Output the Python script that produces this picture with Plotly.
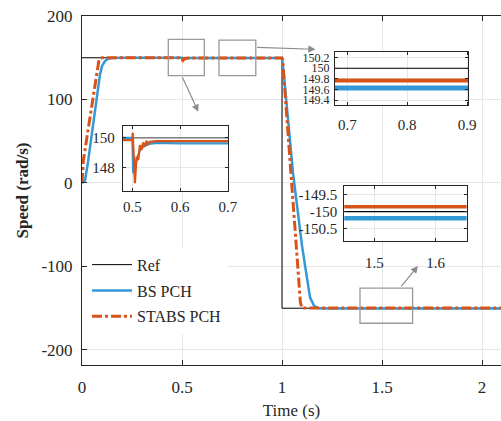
import plotly.graph_objects as go

# ---------------- data ----------------
ref_t = [0, 1.0, 1.0, 2.1]
ref_v = [150, 150, -150, -150]

bs_t = [0, 0.015, 0.03, 0.06, 0.09, 0.10, 0.115, 0.13, 0.15, 0.2, 0.5, 0.502, 0.509,
        0.516, 0.5228, 0.533, 0.550, 0.6, 1.0, 1.01, 1.055, 1.10, 1.14, 1.16, 1.18, 1.2, 2.1]
bs_v = [0, 3, 25, 78, 130, 140, 146, 148.8, 149.7, 150.0, 150.0, 147.6, 148.5,
        149.17, 149.39, 149.57, 149.66, 149.63, 149.63, 128, 12, -75, -137, -147, -149.8, -150.2, -150.2]

st_t = [0, 0.007, 0.03, 0.05, 0.08, 0.085, 0.09, 0.1, 0.5, 0.501, 0.5056, 0.509, 0.5124,
        0.516, 0.5194, 0.5228, 0.5263, 0.5298, 0.533, 0.5366, 0.55, 0.6, 1.0, 1.003, 1.033,
        1.06, 1.085, 1.092, 1.1, 2.1]
st_v = [0, 27, 63, 95, 143, 147.5, 149.3, 149.85, 149.85, 150.34, 146.92, 148.72, 148.49,
        149.51, 149.17, 149.69, 149.39, 149.80, 149.57, 149.73, 149.77, 149.77, 149.77, 148, 51,
        -40, -124, -143, -149.85, -149.85]

series_names = ["Ref", "BS PCH", "STABS PCH"]

x_ticks = [0, 0.5, 1, 1.5, 2]
y_ticks = [-200, -100, 0, 100, 200]
y_ticktext = ["-200", "-100", "0", "100", "200"]

inA_xt = [0.5, 0.6, 0.7]
inA_yt = [148, 150]
inB_xt = [0.7, 0.8, 0.9]
inB_yt = [149.4, 149.6, 149.8, 150.0, 150.2]
inB_ytext = ["149.4", "149.6", "149.8", "150", "150.2"]
inC_xt = [1.5, 1.6]
inC_yt = [-150.5, -150.0, -149.5]
inC_ytext = ["-150.5", "-150", "-149.5"]

# zoom boxes (data coords of the main axes) and arrows
boxes = [(0.4315, 0.6115, 128.5, 172.0), (0.685, 0.869, 128.5, 171.2), (1.39, 1.653, -168, -126)]
arrows = [((0.4985, 128.5), (0.5815, 85.4)), ((0.8685, 162.5), (1.1675, 160.1)),
          ((1.59, -125.7), (1.68, -99.4))]

# ---------------- styles ----------------
BLUE = "#3399D6"
ORANGE = "#D95319"
AX = "#262626"
GRID = "#e6e6e6"
FONT = "Liberation Serif"

def f(size):
    return dict(family=FONT, size=size, color=AX)

fig = go.Figure()

# main traces
fig.add_trace(go.Scatter(x=ref_t, y=ref_v, mode="lines", name=series_names[0], legendgroup="a",
                         line=dict(color="black", width=1)))
fig.add_trace(go.Scatter(x=bs_t, y=bs_v, mode="lines", name=series_names[1], legendgroup="b",
                         line=dict(color=BLUE, width=2.5)))
fig.add_trace(go.Scatter(x=st_t, y=st_v, mode="lines", name=series_names[2], legendgroup="c",
                         line=dict(color=ORANGE, width=3, dash="10px,3px,3px,3px")))

# insets
insets = [("x2", "y3", "#666666", 2.2, 2.2), ("x3", "y4", "black", 5, 4), ("x4", "y5", "black", 4.5, 3.5)]
for xa, ya, refc, bw, ow in insets:
    fig.add_trace(go.Scatter(x=ref_t, y=ref_v, mode="lines", xaxis=xa, yaxis=ya, showlegend=False,
                             line=dict(color=refc, width=1.2)))
    fig.add_trace(go.Scatter(x=bs_t, y=bs_v, mode="lines", xaxis=xa, yaxis=ya, showlegend=False,
                             line=dict(color=BLUE, width=bw)))
    fig.add_trace(go.Scatter(x=st_t, y=st_v, mode="lines", xaxis=xa, yaxis=ya, showlegend=False,
                             line=dict(color=ORANGE, width=ow)))

common = dict(ticks="inside", tickcolor=AX, showline=True, linecolor=AX, linewidth=1,
              showgrid=True, gridcolor=GRID, gridwidth=1, zeroline=False, automargin=False)

def inset_axes(xdom, ydom, xr, yr, xt, yt, ytext, xname, yname, xstand, ystand, yfs=15):
    xax = dict(common, domain=xdom, range=xr, tickvals=xt, ticktext=[f"{v:g}" for v in xt],
               anchor=yname, mirror="ticks", ticklen=3, tickfont=f(15),
               ticklabelstandoff=xstand)
    yax = dict(common, domain=ydom, range=yr, tickvals=yt, ticktext=ytext, anchor=xname,
               mirror="ticks", ticklen=3, tickfont=f(yfs),
               ticklabelstandoff=ystand)
    return xax, yax

xA, yA = inset_axes([0.0971, 0.3484], [0.4986, 0.6848], [0.48, 0.70], [146.4, 150.8],
                    inA_xt, inA_yt, [str(v) for v in inA_yt], "x2", "y3", 2, 4)
xB, yB = inset_axes([0.6038, 0.922], [0.745, 0.896], [0.6795, 0.902], [149.31, 150.30],
                    inB_xt, inB_yt, inB_ytext, "x3", "y4", 6, 2, yfs=12)
xC, yC = inset_axes([0.626, 0.918], [0.356, 0.513], [1.451, 1.6505], [-150.87, -149.23],
                    inC_xt, inC_yt, inC_ytext, "x4", "y5", 8, 3)

fig.update_layout(
    width=501, height=421, autosize=False,
    margin=dict(l=82, r=0, t=16, b=56, pad=0, autoexpand=False),
    plot_bgcolor="white", paper_bgcolor="white",
    font=f(16),
    xaxis=dict(common, domain=[0, 1], range=[0, 2.095], tickvals=x_ticks,
               ticktext=[f"{v:g}" for v in x_ticks], mirror="ticks", ticklen=5,
               tickfont=f(17), ticklabelstandoff=7,
               title=dict(text="Time (s)", font=f(17), standoff=7)),
    yaxis=dict(common, domain=[0, 1], range=[-218, 200], tickvals=y_ticks, ticktext=y_ticktext,
               ticklen=5, tickfont=f(17), ticklabelstandoff=5,
               title=dict(text="<b>Speed (rad/s)</b>", font=f(17), standoff=8)),
    yaxis2=dict(overlaying="y", side="right", anchor="x", range=[-218, 200], tickvals=y_ticks,
                showticklabels=False, ticks="inside", ticklen=5, tickcolor=AX, showline=False,
                showgrid=False, zeroline=False, automargin=False),
    xaxis2=xA, yaxis3=yA, xaxis3=xB, yaxis4=yB, xaxis4=xC, yaxis5=yC,
    legend=dict(x=0.012, y=0.336, xanchor="left", yanchor="top", bgcolor="white",
                borderwidth=0, font=f(16), tracegroupgap=2, itemwidth=40),
    showlegend=True,
)

for x0, x1, y0, y1 in boxes:
    fig.add_shape(type="rect", xref="x", yref="y", x0=x0, x1=x1, y0=y0, y1=y1,
                  line=dict(color="#999999", width=1.3), layer="above")

for (tx, ty), (hx, hy) in arrows:
    fig.add_annotation(x=hx, y=hy, ax=tx, ay=ty, xref="x", yref="y", axref="x", ayref="y",
                       text="", showarrow=True, arrowhead=2, arrowsize=1.2, arrowwidth=1.2,
                       arrowcolor="#8c8c8c", standoff=0, startstandoff=0)

fig.write_html("out.html")
